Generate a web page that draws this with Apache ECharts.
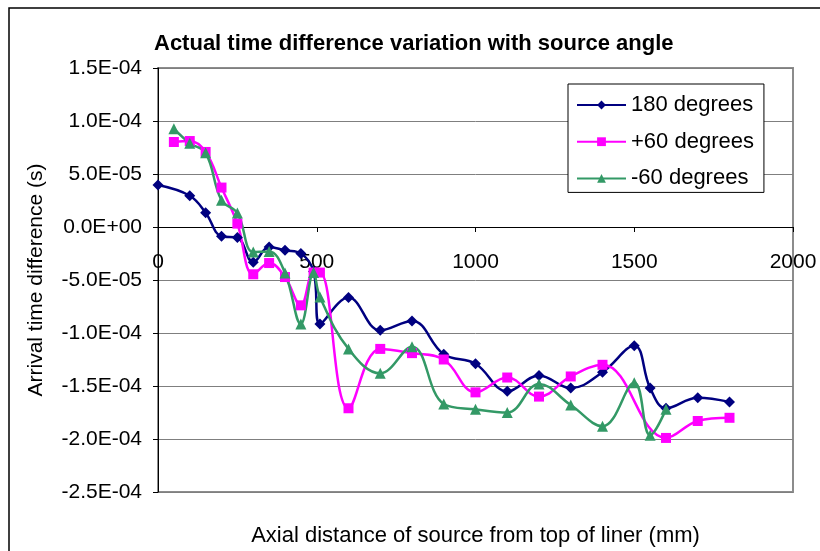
<!DOCTYPE html>
<html>
<head>
<meta charset="utf-8">
<script src="https://cdn.jsdelivr.net/npm/echarts@6/dist/echarts.min.js"></script>
<style>
  html, body { margin: 0; padding: 0; background: #fff; }
  #main { width: 820px; height: 551px; }
</style>
</head>
<body>
<div id="main"></div>
<script>
// 数据（从图上读出来的）
const x180 = [0, 100, 150, 200, 250, 300, 350, 400, 450, 490, 510, 600, 700, 800, 900, 1000, 1100, 1200, 1300, 1400, 1500, 1550, 1600, 1700, 1800];
const y180 = [3.96e-5, 2.95e-5, 1.35e-5, -0.88e-5, -1.0e-5, -3.33e-5, -1.89e-5, -2.2e-5, -2.5e-5, -4.2e-5, -9.15e-5, -6.66e-5, -9.75e-5, -8.87e-5, -12.0e-5, -12.9e-5, -15.5e-5, -14.0e-5, -15.2e-5, -13.7e-5, -11.2e-5, -15.2e-5, -17.1e-5, -16.1e-5, -16.5e-5];

const xPlus60 = [50, 100, 150, 200, 250, 300, 350, 400, 450, 490, 510, 600, 700, 800, 900, 1000, 1100, 1200, 1300, 1400, 1600, 1700, 1800];
const yPlus60 = [8.02e-5, 8.11e-5, 7.08e-5, 3.72e-5, 0.32e-5, -4.46e-5, -3.4e-5, -4.72e-5, -7.39e-5, -4.3e-5, -4.3e-5, -17.1e-5, -11.5e-5, -11.9e-5, -12.5e-5, -15.6e-5, -14.2e-5, -16.0e-5, -14.1e-5, -13.0e-5, -19.9e-5, -18.3e-5, -18.0e-5];

const xMinus60 = [50, 100, 150, 200, 250, 300, 350, 400, 450, 490, 510, 600, 700, 800, 900, 1000, 1100, 1200, 1300, 1400, 1500, 1550, 1600];
const yMinus60 = [9.27e-5, 7.9e-5, 7.0e-5, 2.52e-5, 1.32e-5, -2.36e-5, -2.3e-5, -4.34e-5, -9.15e-5, -4.3e-5, -6.6e-5, -11.5e-5, -13.8e-5, -11.3e-5, -16.7e-5, -17.2e-5, -17.5e-5, -14.8e-5, -16.8e-5, -18.8e-5, -14.7e-5, -19.65e-5, -17.2e-5];

const seriesNames = ['180 degrees', '+60 degrees', '-60 degrees'];

const FONT = '"Liberation Sans", Arial, sans-serif';

function zip(xs, ys) {
    return xs.map((x, i) => [x, ys[i]]);
}

// 1.5E-04 这种格式
function sci(v) {
    if (Math.abs(v) < 1e-12) return '0.0E+00';
    const parts = v.toExponential(1).split('e');
    const sign = parts[1][0];
    const n = parts[1].slice(1).padStart(2, '0');
    return parts[0] + 'E' + sign + n;
}

const myChart = echarts.init(document.getElementById('main'));

const option = {
    animation: false,
    backgroundColor: '#fff',
    title: {
        text: 'Actual time difference variation with source angle',
        left: 154,
        top: 33,
        padding: 0,
        textStyle: {
            fontFamily: FONT,
            fontSize: 22,
            fontWeight: 'bold',
            color: '#000',
        },
    },
    graphic: [{
        type: 'rect',
        shape: { x: 9, y: 8, width: 840, height: 600 },
        style: { fill: 'none', stroke: '#000', lineWidth: 1.5 },
        silent: true,
    }],
    legend: {
        orient: 'vertical',
        left: 568,
        top: 84,
        padding: [10, 10, 3, 8],
        itemGap: 14.7,
        itemWidth: 49,
        itemHeight: 11,
        backgroundColor: '#fff',
        borderColor: '#000',
        borderWidth: 1,
        data: seriesNames,
        textStyle: {
            fontFamily: FONT,
            fontSize: 22,
            color: '#000',
        },
    },
    grid: {
        left: 158,
        right: 27,
        top: 68,
        bottom: 59,
        containLabel: false,
        outerBoundsMode: 'none',
        show: true,
        borderColor: '#8c8c8c',
        borderWidth: 2,
    },
    xAxis: {
        type: 'value',
        min: 0,
        max: 2000,
        interval: 500,
        // 轴放在 y=0 那条线上
        offset: -265,
        name: 'Axial distance of source from top of liner (mm)',
        nameLocation: 'middle',
        nameGap: 298,
        nameTextStyle: {
            fontFamily: FONT,
            fontSize: 22,
            color: '#000',
        },
        axisLine: { onZero: false, lineStyle: { color: '#000', width: 1 } },
        axisTick: { show: true, inside: false, length: 5, lineStyle: { color: '#000' } },
        axisLabel: {
            margin: 25,
            fontFamily: FONT,
            fontSize: 21,
            color: '#000',
            formatter: v => String(v),
        },
        splitLine: { show: false },
    },
    yAxis: {
        type: 'value',
        min: -2.5e-4,
        max: 1.5e-4,
        interval: 5e-5,
        name: 'Arrival time difference (s)',
        nameLocation: 'middle',
        nameGap: 111,
        nameTextStyle: {
            fontFamily: FONT,
            fontSize: 21,
            color: '#000',
        },
        axisLine: { show: true, lineStyle: { color: '#000', width: 1 } },
        axisTick: { show: true, inside: false, length: 5, lineStyle: { color: '#000' } },
        axisLabel: {
            margin: 16,
            fontFamily: FONT,
            fontSize: 21,
            color: '#000',
            formatter: sci,
        },
        splitLine: { show: true, lineStyle: { color: '#7f7f7f', width: 1 } },
    },
    series: [
        {
            name: seriesNames[0],
            type: 'line',
            data: zip(x180, y180),
            smooth: 0.4,
            symbol: 'diamond',
            symbolSize: 11,
            color: '#000080',
            lineStyle: { width: 2.5 },
        },
        {
            name: seriesNames[1],
            type: 'line',
            data: zip(xPlus60, yPlus60),
            smooth: 0.4,
            symbol: 'rect',
            symbolSize: 10,
            color: '#ff00ff',
            lineStyle: { width: 2.5 },
        },
        {
            name: seriesNames[2],
            type: 'line',
            data: zip(xMinus60, yMinus60),
            smooth: 0.4,
            symbol: 'triangle',
            symbolSize: 11,
            color: '#339966',
            lineStyle: { width: 2.5 },
        },
    ],
};

myChart.setOption(option);
</script>
</body>
</html>
